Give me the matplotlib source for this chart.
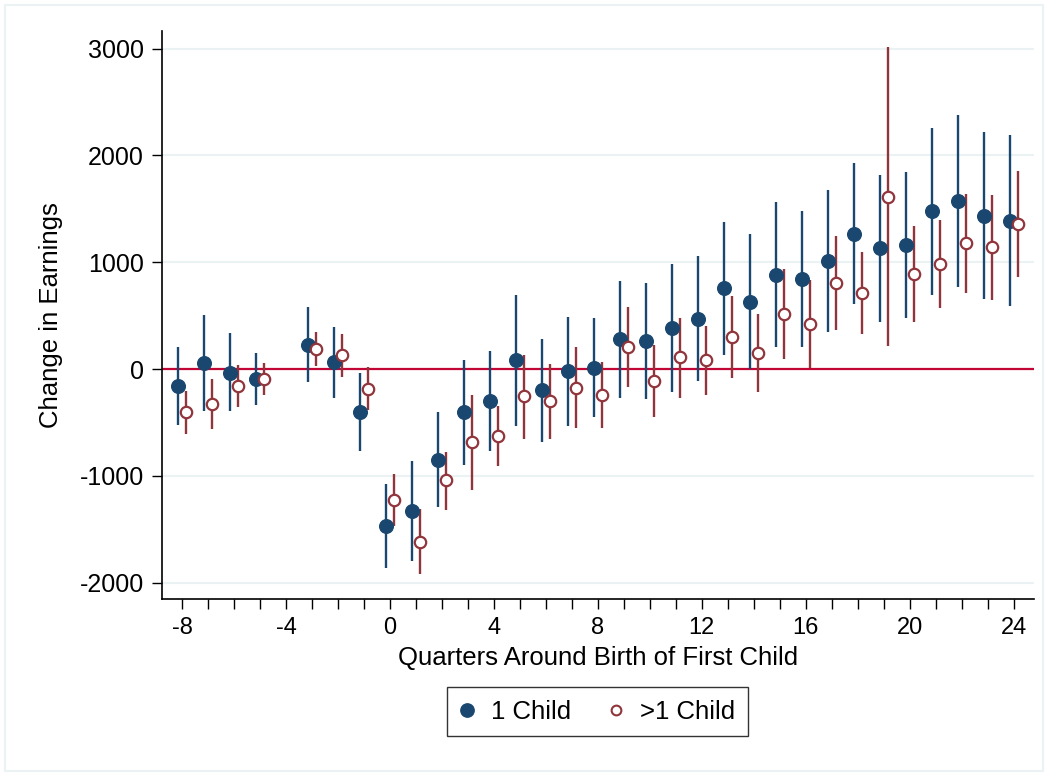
import numpy as np
import matplotlib
matplotlib.use("Agg")
import matplotlib.pyplot as plt
from matplotlib.patches import Rectangle
from matplotlib.lines import Line2D

plt.rcParams['font.family'] = ['Liberation Sans', 'DejaVu Sans']
plt.rcParams['axes.unicode_minus'] = False

# quarters relative to birth (quarter -4 is the omitted reference period)
quarters = [-8, -7, -6, -5, -3, -2, -1, 0, 1, 2, 3, 4, 5, 6, 7, 8,
            9, 10, 11, 12, 13, 14, 15, 16, 17, 18, 19, 20, 21, 22, 23, 24]

# one child: estimate, lower and upper bound of the CI
one_est = [-160, 59, -34, -90, 228, 66, -397, -1468, -1328, -847, -403, -300,
           81, -200, -19, 9, 281, 262, 381, 472, 756, 631, 884, 843,
           1012, 1268, 1131, 1165, 1478, 1575, 1437, 1390]
one_lo = [-525, -394, -394, -334, -125, -266, -762, -1859, -1800, -1290, -897, -765,
          -534, -684, -534, -450, -266, -281, -219, -116, 128, -3, 203, 206,
          344, 606, 443, 481, 696, 766, 656, 590]
one_hi = [203, 509, 334, 153, 578, 394, -34, -1078, -856, -406, 87, 166,
          693, 281, 490, 475, 822, 803, 981, 1056, 1378, 1262, 1562, 1478,
          1681, 1931, 1818, 1849, 2259, 2381, 2218, 2187]

# more than one child
more_est = [-406, -331, -159, -97, 184, 128, -184, -1228, -1615, -1040, -678, -622,
            -256, -297, -175, -241, 206, -112, 109, 81, 300, 150, 512, 421,
            806, 712, 1615, 893, 984, 1181, 1143, 1362]
more_lo = [-612, -565, -359, -247, 31, -78, -384, -1471, -1921, -1315, -1128, -903,
           -653, -650, -556, -550, -172, -450, -266, -241, -87, -212, 90, 6,
           365, 325, 218, 443, 575, 712, 647, 862]
more_hi = [-203, -97, 37, 53, 344, 331, 16, -984, -1312, -775, -238, -344,
           134, 50, 206, 63, 578, 225, 475, 406, 681, 515, 934, 834,
           1246, 1100, 3015, 1340, 1394, 1643, 1634, 1853]

navy = '#1a476f'
maroon = '#90353b'
zero_col = '#c10534'
grid_col = '#eaf2f3'

fig = plt.figure(figsize=(10.47, 7.73), dpi=100)
ax = fig.add_axes([0.1547, 0.2247, 0.8329, 0.7356])

q = np.array(quarters, dtype=float)
off = 0.16

ax.axhline(0, color=zero_col, lw=1.6, zorder=1)
ax.vlines(q - off, one_lo, one_hi, color=navy, lw=1.7, zorder=2)
ax.vlines(q + off, more_lo, more_hi, color=maroon, lw=1.7, zorder=2)
ax.plot(q - off, one_est, 'o', ms=9.8, color=navy, mec=navy, zorder=3)
ax.plot(q + off, more_est, 'o', ms=8.2, mfc='white', mec=maroon, mew=1.6, zorder=4)

ax.set_xlim(-8.77, 24.78)
ax.set_ylim(-2155, 3168)
ax.set_yticks([-2000, -1000, 0, 1000, 2000, 3000])
ax.set_xticks(np.arange(-8, 25, 4))
ax.set_xticks(np.arange(-8, 25, 1), minor=True)
ax.yaxis.grid(True, color=grid_col, lw=1.5)
ax.set_axisbelow(True)

for s in ['top', 'right']:
    ax.spines[s].set_visible(False)
for s in ['left', 'bottom']:
    ax.spines[s].set_linewidth(1.2)
    ax.spines[s].set_color('black')

ax.tick_params(axis='both', direction='out', width=1.0)
ax.tick_params(axis='y', labelsize=18, length=7, pad=6)
ax.tick_params(axis='x', which='major', labelsize=17, length=7, pad=5.5)
ax.tick_params(axis='x', which='minor', length=7, width=1.0)

ax.set_xlabel('Quarters Around Birth of First Child', fontsize=18.5, labelpad=5)
ax.set_ylabel('Change in Earnings', fontsize=18.5, labelpad=12)

handles = [
    Line2D([], [], ls='none', marker='o', ms=9.6, color=navy),
    Line2D([], [], ls='none', marker='o', ms=7.0, mfc='white', mec=maroon, mew=1.5),
]
leg = fig.legend(handles, ['1 Child', '>1 Child'], loc='center',
                 bbox_to_anchor=(0.571, 0.0795), ncol=2, fontsize=18.5,
                 frameon=True, fancybox=False, edgecolor='black',
                 handlelength=0.5, handletextpad=0.7, columnspacing=1.5,
                 borderpad=0.5)
leg.get_frame().set_linewidth(1.0)

fig.patches.append(Rectangle((5 / 1047, 2 / 773), 1038 / 1047, 766 / 773,
                             transform=fig.transFigure, fill=False,
                             edgecolor=grid_col, lw=1.5))

fig.savefig('out.png', dpi=100)
